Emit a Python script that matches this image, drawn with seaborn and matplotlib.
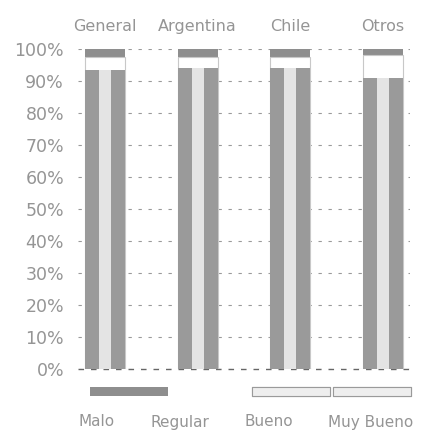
import matplotlib
matplotlib.use("Agg")
import matplotlib.pyplot as plt
from matplotlib.patches import Patch
import seaborn as sns
import pandas as pd
import numpy as np

# ---- data (percent of responses) ----
categories = ["General", "Argentina", "Chile", "Otros"]
series_names = ["Malo", "Regular", "Bueno", "Muy Bueno"]
malo = [2.5, 2.5, 2.5, 2.0]
regular = [4.0, 3.5, 3.5, 7.0]
bueno = [45.5, 44.0, 42.0, 47.0]
muy_bueno = [48.0, 50.0, 52.0, 44.0]
y_ticks = [0, 10, 20, 30, 40, 50, 60, 70, 80, 90, 100]
y_tick_labels = ["0%", "10%", "20%", "30%", "40%", "50%", "60%", "70%", "80%", "90%", "100%"]

df = pd.DataFrame({"cat": categories, "Malo": malo, "Regular": regular,
                   "Bueno": bueno, "Muy Bueno": muy_bueno})
df["cum_mb"] = df["Muy Bueno"]
df["cum_b"] = df["cum_mb"] + df["Bueno"]
df["cum_r"] = df["cum_b"] + df["Regular"]
df["cum_m"] = df["cum_r"] + df["Malo"]

sns.set_theme(style="white")
plt.rcParams["font.family"] = ["DejaVu Sans"]

text_col = "#959595"
c_malo = "#8e8e8e"
c_reg = "#ffffff"
c_bueno = "#9a9a9a"
c_hi = "#e4e4e4"

fig = plt.figure(figsize=(4.23, 4.34), dpi=100)
ax = fig.add_axes([78 / 423, 1 - 369 / 434, (410 - 78) / 423, 320 / 434])

W = 0.43
# layered stacking (top segment first)
sns.barplot(data=df, x="cat", y="cum_m", color=c_malo, width=W, errorbar=None,
            saturation=1, linewidth=0, ax=ax, zorder=2)
sns.barplot(data=df, x="cat", y="cum_r", color=c_reg, width=W, errorbar=None,
            saturation=1, linewidth=0.8, edgecolor="#c8c8c8", ax=ax, zorder=3)
sns.barplot(data=df, x="cat", y="cum_b", color=c_bueno, width=W, errorbar=None,
            saturation=1, linewidth=0, ax=ax, zorder=4)
sns.barplot(data=df, x="cat", y="cum_mb", color=c_bueno, width=W, errorbar=None,
            saturation=1, linewidth=0, ax=ax, zorder=5)
# light centre highlight on the lower segments
sns.barplot(data=df, x="cat", y="cum_b", color=c_hi, width=0.13, errorbar=None,
            saturation=1, linewidth=0, ax=ax, zorder=6)

ax.set_ylim(0, 100)
ax.set_xlim(-0.29, 3.29)
ax.set_yticks(y_ticks)
ax.set_yticklabels(y_tick_labels)
ax.set_xlabel("")
ax.set_ylabel("")
ax.xaxis.tick_top()
ax.tick_params(axis="x", length=0, pad=11, labelsize=11.5, labelcolor=text_col)
ax.tick_params(axis="y", length=0, pad=10, labelsize=12.5, labelcolor=text_col)
ax.yaxis.grid(True, linestyle=(0, (3, 6)), color="#9a9a9a", linewidth=0.8)
ax.xaxis.grid(False)
ax.set_axisbelow(True)
ax.axhline(0, linestyle=(0, (4, 5)), color="#666666", linewidth=1.0,
           clip_on=False, zorder=1)
for s in ax.spines.values():
    s.set_visible(False)

# legend: patch row
handles = [
    Patch(facecolor=c_malo, edgecolor="none"),
    Patch(facecolor="white", edgecolor="none"),
    Patch(facecolor="#eeeeee", edgecolor="#9a9a9a", linewidth=0.8),
    Patch(facecolor="#eeeeee", edgecolor="#9a9a9a", linewidth=0.8),
]
leg1 = fig.legend(handles, [""] * 4, ncol=4, loc="center",
                  bbox_to_anchor=(250.5 / 423, 1 - 392.5 / 434),
                  frameon=False, handlelength=5.1, handleheight=0.5,
                  handletextpad=0, columnspacing=0.2, borderpad=0, fontsize=11)
# legend: label row
inv = [Patch(alpha=0) for _ in series_names]
leg2 = fig.legend(inv, series_names, ncol=4, loc="center",
                  bbox_to_anchor=(246 / 423, 1 - 422 / 434),
                  frameon=False, handlelength=0, handletextpad=0,
                  columnspacing=2.3, borderpad=0, fontsize=11)
for t in leg2.get_texts():
    t.set_color(text_col)
fig.add_artist(leg1)

fig.savefig("out.png", dpi=100)
